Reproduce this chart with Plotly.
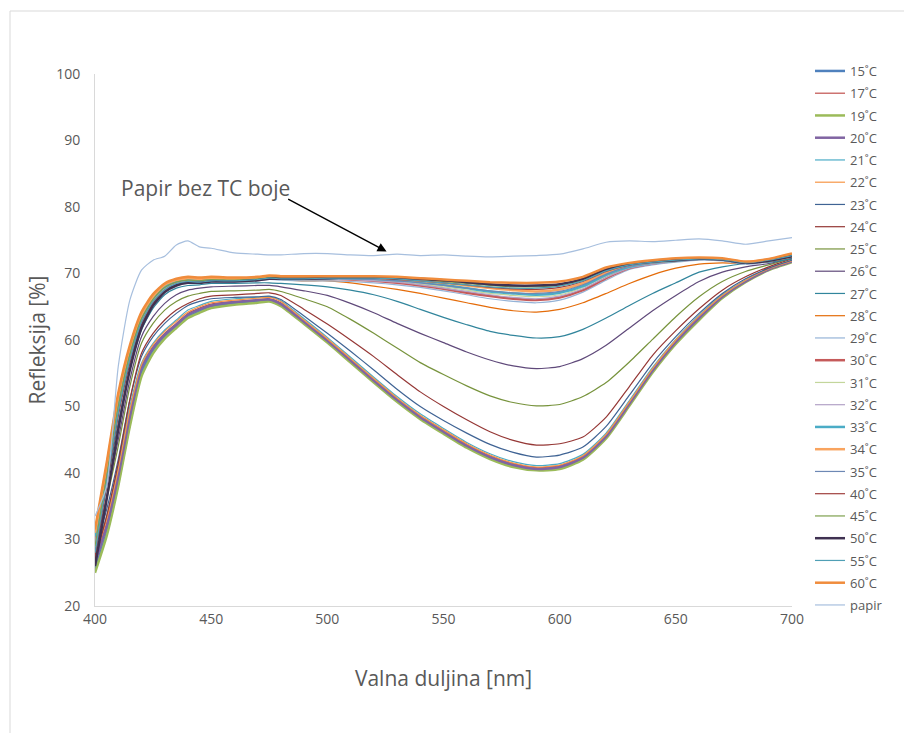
import plotly.graph_objects as go

# Wavelength grid (nm)
wavelength = [400, 405, 410, 415, 420, 425, 430, 435, 440, 445, 450, 460, 470, 475, 480,
              490, 500, 510, 520, 530, 540, 550, 560, 570, 580, 590, 600, 610, 620, 630,
              640, 650, 660, 670, 680, 690, 700]

# Reflectance [%] per temperature
r15 = [25.5, 31, 38.5, 47.5, 55, 58.5, 60.5, 62, 63.5, 64.3, 65, 65.5, 65.8, 66, 65.3, 62.6, 59.8, 56.8, 53.8, 50.9, 48.3, 46.1, 44, 42.3, 41.1, 40.5, 40.8, 42.2, 45.4, 50.3, 55.3, 59.6, 63.2, 66.4, 68.8, 70.6, 71.8]
r17 = [27, 32.5, 40, 49, 56, 59, 61, 62.5, 64, 64.8, 65.4, 65.8, 66, 66.2, 65.6, 62.9, 60.1, 57.1, 54.1, 51.2, 48.6, 46.4, 44.3, 42.6, 41.4, 40.8, 41.1, 42.5, 45.7, 50.6, 55.6, 59.9, 63.5, 66.6, 68.9, 70.7, 71.9]
r19 = [25, 30.5, 38, 47, 54.5, 58, 60.2, 61.8, 63.3, 64.1, 64.8, 65.3, 65.6, 65.8, 65.1, 62.4, 59.6, 56.6, 53.6, 50.7, 48.1, 45.9, 43.8, 42.1, 40.9, 40.4, 40.6, 42, 45.2, 50.1, 55.1, 59.4, 63, 66.3, 68.7, 70.5, 71.7]
r20 = [26.5, 32, 39.5, 48.5, 55.8, 58.8, 60.8, 62.3, 63.8, 64.6, 65.2, 65.7, 66, 66.1, 65.4, 62.7, 59.9, 56.9, 53.9, 51, 48.4, 46.2, 44.1, 42.4, 41.2, 40.6, 40.9, 42.3, 45.5, 50.4, 55.4, 59.7, 63.3, 66.5, 68.8, 70.6, 71.8]
r21 = [28, 33.5, 41, 50, 56.5, 59.5, 61.5, 63, 64.5, 65.2, 65.8, 66.2, 66.4, 66.5, 65.9, 63.2, 60.4, 57.4, 54.4, 51.5, 48.9, 46.7, 44.6, 42.9, 41.7, 41.1, 41.4, 42.8, 46, 50.9, 55.9, 60.1, 63.7, 66.8, 69, 70.8, 72]
r22 = [27.5, 33, 40.5, 49.5, 56.3, 59.3, 61.3, 62.8, 64.2, 65, 65.6, 66, 66.3, 66.4, 65.8, 63, 60.2, 57.2, 54.2, 51.3, 48.7, 46.5, 44.4, 42.7, 41.5, 40.9, 41.2, 42.6, 45.8, 50.7, 55.7, 60, 63.6, 66.7, 69, 70.7, 71.9]
r23 = [28.5, 34.5, 42, 51, 57.5, 60.5, 62.5, 64, 65.2, 65.8, 66.2, 66.4, 66.5, 66.6, 66.1, 63.6, 61, 58.3, 55.5, 52.6, 50, 47.9, 46, 44.3, 43.1, 42.4, 42.7, 43.9, 47, 51.7, 56.5, 60.5, 64, 67, 69.2, 70.8, 72]
r24 = [27, 33.5, 41.5, 51, 58, 61, 63, 64.5, 65.5, 66.2, 66.6, 66.8, 67, 67.1, 66.7, 64.6, 62.4, 60, 57.5, 54.8, 52.2, 50, 48, 46.2, 44.9, 44.2, 44.4, 45.4, 48.4, 53, 57.7, 61.4, 64.7, 67.5, 69.5, 71, 72.2]
r25 = [29, 36, 44, 53, 59.5, 62.5, 64.5, 65.8, 66.6, 67, 67.3, 67.4, 67.5, 67.6, 67.3, 66.2, 65, 63.1, 61, 58.8, 56.6, 54.8, 53.1, 51.6, 50.6, 50.1, 50.3, 51.5, 53.6, 56.7, 60.1, 63.5, 66.5, 68.8, 70.3, 71.3, 72.3]
r26 = [28, 36.5, 45, 54, 60.5, 63.5, 65.5, 66.8, 67.5, 67.8, 68, 68.1, 68.2, 68.2, 68, 67.4, 66.7, 65.5, 64.1, 62.5, 61, 59.6, 58.2, 57, 56.1, 55.7, 56, 57.2, 59.2, 61.8, 64.4, 66.7, 68.8, 70.2, 71, 71.5, 72.3]
r27 = [29.5, 38, 47.5, 55.5, 61.5, 64.8, 66.8, 67.8, 68.2, 68.3, 68.5, 68.5, 68.6, 68.6, 68.5, 68.3, 68, 67.5, 66.8, 65.8, 64.6, 63.4, 62.3, 61.3, 60.7, 60.3, 60.5, 61.6, 63.3, 65.2, 67, 68.6, 70.2, 71, 71.5, 71.7, 72.2]
r28 = [30.5, 39.5, 49.5, 57, 63, 66, 67.8, 68.6, 68.9, 68.8, 69, 68.9, 69.1, 69.2, 69.1, 68.9, 68.9, 68.6, 68.1, 67.6, 67, 66.3, 65.6, 64.9, 64.4, 64.2, 64.6, 65.6, 67, 68.5, 69.8, 70.8, 71.4, 71.6, 71.5, 71.8, 72.5]
r29 = [29, 39, 49.5, 57, 62.5, 65.8, 67.5, 68.4, 68.7, 68.6, 68.8, 68.7, 68.9, 69.1, 69, 68.9, 68.9, 68.8, 68.6, 68.3, 67.9, 67.4, 66.8, 66.2, 65.8, 65.6, 66, 67.2, 69, 70.6, 71.3, 71.7, 72, 71.9, 71.4, 71.8, 72.6]
r30 = [30, 40, 50.5, 58, 63.3, 66.2, 68, 68.8, 69.1, 69, 69.1, 69, 69.2, 69.4, 69.3, 69.2, 69.2, 69.1, 68.9, 68.6, 68.2, 67.7, 67.1, 66.6, 66.2, 66, 66.4, 67.5, 69.3, 70.8, 71.5, 71.9, 72.2, 72.1, 71.6, 72, 72.8]
r31 = [28.5, 39, 49.5, 57.3, 62.8, 65.9, 67.7, 68.5, 68.8, 68.7, 68.9, 68.8, 69, 69.2, 69.1, 69.1, 69.1, 69.1, 69, 68.8, 68.4, 68, 67.5, 67, 66.7, 66.5, 66.8, 67.9, 69.6, 70.9, 71.5, 71.8, 72.1, 72, 71.5, 71.9, 72.7]
r32 = [29.5, 39.5, 50, 57.6, 63, 66, 67.8, 68.6, 68.9, 68.8, 69, 68.9, 69.1, 69.3, 69.2, 69.1, 69.2, 69.1, 68.9, 68.7, 68.3, 67.8, 67.3, 66.8, 66.4, 66.2, 66.6, 67.7, 69.4, 70.8, 71.4, 71.8, 72.1, 72, 71.5, 71.9, 72.7]
r33 = [30.5, 40.5, 51, 58.3, 63.5, 66.4, 68.1, 68.9, 69.2, 69.1, 69.2, 69.1, 69.2, 69.4, 69.3, 69.3, 69.3, 69.3, 69.2, 69, 68.7, 68.3, 67.8, 67.3, 67, 66.8, 67.1, 68.1, 69.8, 71, 71.6, 71.9, 72.2, 72.1, 71.6, 72, 72.8]
r34 = [31, 41, 51.5, 58.8, 63.8, 66.6, 68.3, 69, 69.3, 69.2, 69.3, 69.2, 69.3, 69.5, 69.4, 69.4, 69.4, 69.4, 69.3, 69.2, 68.9, 68.6, 68.2, 67.8, 67.5, 67.3, 67.6, 68.5, 70.1, 71.2, 71.7, 72, 72.3, 72.2, 71.7, 72.1, 72.9]
r35 = [28, 38.5, 49, 57, 62.6, 65.7, 67.5, 68.4, 68.7, 68.6, 68.8, 68.8, 69, 69.2, 69.1, 69.1, 69.2, 69.2, 69.1, 68.9, 68.6, 68.2, 67.8, 67.4, 67.1, 67, 67.3, 68.3, 69.9, 71.1, 71.6, 71.9, 72.1, 72, 71.5, 71.9, 72.7]
r40 = [27.5, 38, 48.5, 56.5, 62.3, 65.5, 67.3, 68.3, 68.7, 68.6, 68.8, 68.8, 69, 69.2, 69.2, 69.2, 69.3, 69.3, 69.3, 69.1, 68.9, 68.6, 68.3, 67.9, 67.7, 67.6, 67.9, 68.8, 70.3, 71.3, 71.7, 72, 72.2, 72.1, 71.6, 72, 72.8]
r45 = [29, 39.5, 50, 57.8, 63.2, 66.1, 67.9, 68.7, 69, 68.9, 69.1, 69, 69.2, 69.4, 69.3, 69.3, 69.4, 69.4, 69.4, 69.3, 69.1, 68.8, 68.5, 68.2, 68, 68, 68.2, 69, 70.5, 71.4, 71.8, 72.1, 72.3, 72.2, 71.7, 72.1, 72.9]
r50 = [26, 36, 46.5, 55.5, 61.8, 65.2, 67.2, 68.2, 68.6, 68.6, 68.8, 68.8, 69, 69.2, 69.2, 69.2, 69.3, 69.4, 69.4, 69.3, 69.2, 69, 68.7, 68.4, 68.2, 68.2, 68.4, 69.2, 70.6, 71.4, 71.8, 72, 72.2, 72.1, 71.6, 71.9, 72.6]
r55 = [28, 38.5, 49, 57, 62.7, 65.8, 67.6, 68.5, 68.8, 68.7, 68.9, 68.9, 69.1, 69.3, 69.2, 69.2, 69.3, 69.3, 69.3, 69.2, 68.9, 68.6, 68.3, 68, 67.8, 67.8, 68.1, 68.9, 70.4, 71.3, 71.7, 72, 72.2, 72.1, 71.6, 72, 72.7]
r60 = [31.5, 41.5, 52, 59.2, 64.2, 66.9, 68.5, 69.2, 69.5, 69.4, 69.5, 69.4, 69.5, 69.7, 69.6, 69.6, 69.6, 69.6, 69.6, 69.5, 69.3, 69.1, 68.9, 68.7, 68.6, 68.6, 68.8, 69.5, 70.9, 71.6, 72, 72.3, 72.4, 72.3, 71.8, 72.2, 73]
papir = [33.5, 38, 56, 66, 70.5, 72, 72.6, 74.3, 74.9, 74, 73.8, 73.1, 72.9, 72.8, 72.8, 73, 73, 72.8, 72.7, 72.9, 72.7, 72.8, 72.6, 72.5, 72.6, 72.7, 72.9, 73.7, 74.7, 74.9, 74.8, 75, 75.2, 74.9, 74.4, 74.9, 75.4]

series_names = ["15˚C", "17˚C", "19˚C", "20˚C", "21˚C", "22˚C", "23˚C", "24˚C", "25˚C", "26˚C",
                "27˚C", "28˚C", "29˚C", "30˚C", "31˚C", "32˚C", "33˚C", "34˚C", "35˚C", "40˚C",
                "45˚C", "50˚C", "55˚C", "60˚C", "papir"]
series_values = [r15, r17, r19, r20, r21, r22, r23, r24, r25, r26, r27, r28, r29, r30, r31,
                 r32, r33, r34, r35, r40, r45, r50, r55, r60, papir]

colors = ["#4F81BD", "#C0504D", "#9BBB59", "#8064A2", "#4BACC6", "#F79646",
          "#3F6394", "#953735", "#77933C", "#5F497A", "#31859C", "#E46C0A",
          "#95B3D7", "#C55A5A", "#C3D69B", "#B3A2C7", "#4BACC6", "#F9A45F",
          "#6D88B4", "#A0403E", "#7EA04E", "#3F3151", "#4F9FB5", "#F08C3C", "#A7BFDE"]
widths = [2.5, 1.2, 2.5, 2.5, 1.2, 1.2, 1.2, 1.2, 1.2, 1.2, 1.2, 1.2, 1.2, 2.5, 1.2, 1.2,
          2.5, 2.5, 1.2, 1.2, 1.2, 2.5, 1.2, 2.5, 1.2]

fig = go.Figure()
for name, vals, col, w in zip(series_names, series_values, colors, widths):
    fig.add_trace(go.Scatter(
        x=wavelength, y=vals, mode="lines", name=name, legendgroup=name,
        line=dict(color=col, width=w, shape="spline", smoothing=0.6),
    ))

grey = "#595959"
axis_line = "#D9D9D9"
W, H = 904, 733
ml, mr, mt, mb = 95, 112, 74, 127
pw, ph = W - ml - mr, H - mt - mb

fig.update_layout(
    width=W, height=H,
    margin=dict(l=ml, r=mr, t=mt, b=mb, pad=0, autoexpand=False),
    paper_bgcolor="white", plot_bgcolor="white",
    font=dict(family="Open Sans, sans-serif", color=grey),
    showlegend=True,
    legend=dict(
        x=(810 - ml) / pw, xanchor="left", y=(H - mb - 56) / ph, yanchor="top",
        font=dict(size=13, color=grey), tracegroupgap=2.35, maxheight=1.0,
        bgcolor="rgba(0,0,0,0)", traceorder="grouped",
    ),
    xaxis=dict(
        range=[400, 700], dtick=50, tick0=400, showgrid=False, zeroline=False,
        showline=True, linecolor=axis_line, linewidth=1, ticks="",
        tickfont=dict(size=14, color=grey),
        title=dict(text="Valna duljina [nm]", font=dict(size=21, color=grey), standoff=44),
    ),
    yaxis=dict(
        range=[20, 100], dtick=10, tick0=20, showgrid=False, zeroline=False,
        showline=True, linecolor=axis_line, linewidth=1, ticks="",
        tickfont=dict(size=14, color=grey), ticklabelstandoff=11,
        title=dict(text="Refleksija [%]", font=dict(size=21, color=grey), standoff=4),
    ),
    annotations=[
        dict(x=447.5, y=82.8, xref="x", yref="y", text="Papir bez TC boje",
             showarrow=False, font=dict(size=21, color=grey)),
        dict(x=525.5, y=73.3, xref="x", yref="y", ax=482.5, ay=81.3, axref="x", ayref="y",
             text="", showarrow=True, arrowhead=2, arrowsize=1.3, arrowwidth=1.4,
             arrowcolor="#000000"),
    ],
    shapes=[
        dict(type="line", xref="paper", yref="paper",
             x0=(10 - ml) / pw, x1=(W + 5 - ml) / pw,
             y0=(H - mb - 11) / ph, y1=(H - mb - 11) / ph,
             line=dict(color=axis_line, width=1)),
        dict(type="line", xref="paper", yref="paper",
             x0=(10 - ml) / pw, x1=(10 - ml) / pw,
             y0=(H - mb - 11) / ph, y1=(H - mb - H - 5) / ph,
             line=dict(color=axis_line, width=1)),
    ],
)

fig.write_html("out.html", config={"displayModeBar": False},
               post_script="document.body.style.margin='0';document.body.style.overflow='hidden';")
